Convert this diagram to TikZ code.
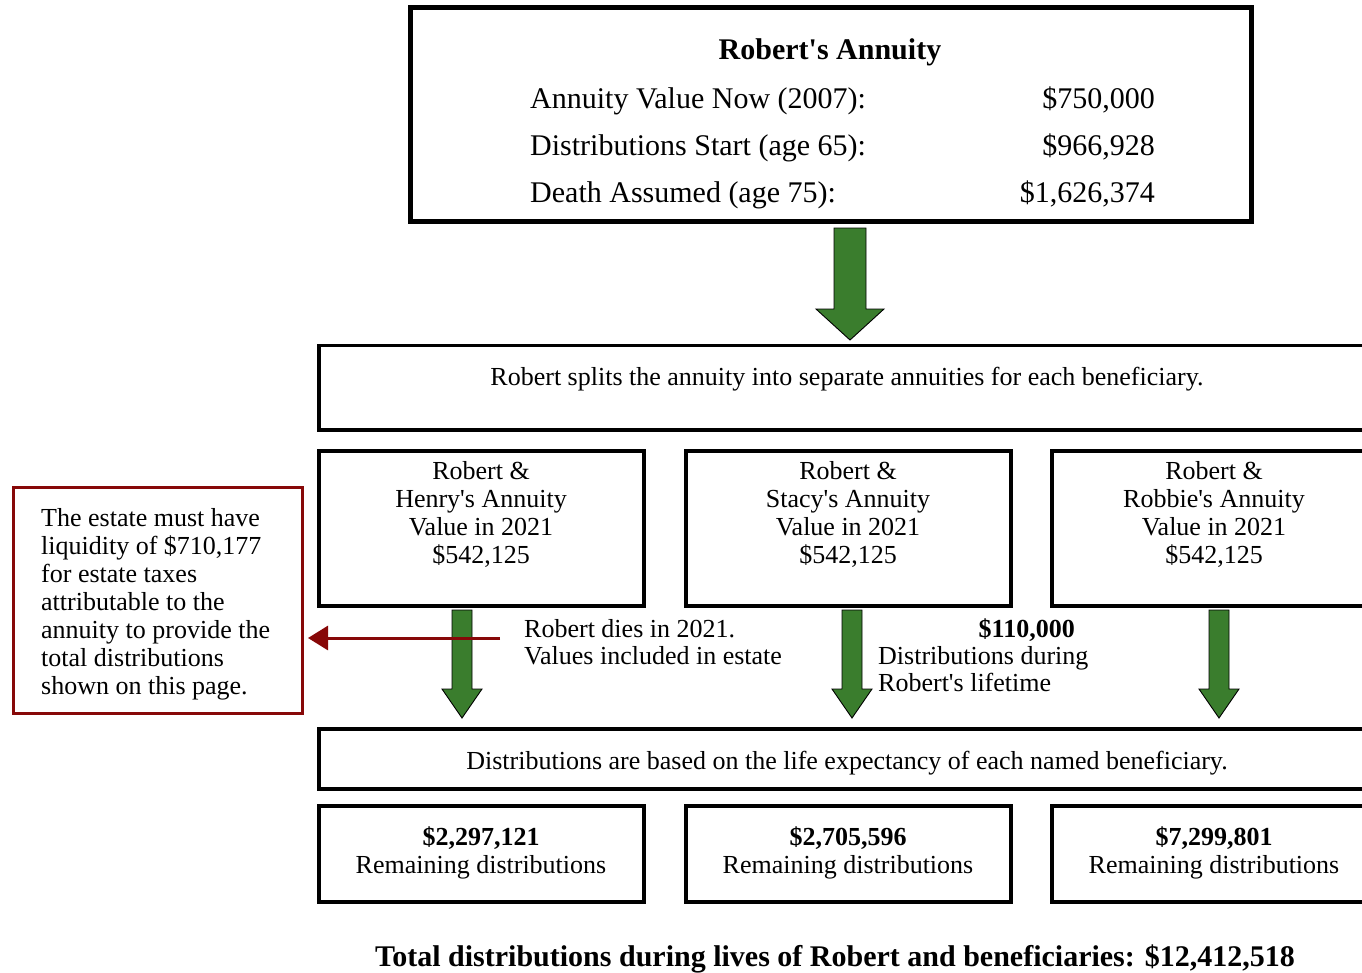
\documentclass[tikz,border=0pt]{standalone}
\usepackage{fontspec}
\setmainfont{Liberation Serif}[Ligatures=TeXOff]
\usetikzlibrary{arrows.meta,calc}
\definecolor{agreen}{RGB}{58,125,45}
\definecolor{ared}{RGB}{135,8,8}
\tikzset{
  box/.style={draw=black, line width=3.5pt, inner sep=0pt, fill=none},
  thickbox/.style={draw=black, line width=5pt, inner sep=0pt},
  redbox/.style={draw=ared, line width=3pt, inner sep=0pt},
  txt/.style={inner sep=0pt, font=\fontsize{26}{28}\selectfont},
  bigtxt/.style={inner sep=0pt, font=\fontsize{30}{36}\selectfont},
  garr/.style={draw=black, line width=0.9pt, fill=agreen, line join=miter},
  rarr/.style={draw=ared, line width=3pt, -{Triangle[length=20pt,width=24pt]}},
}
\newcommand\blockarrow[5]{%
  \draw[garr] let \p1=(#1), \p2=(#2) in
    (\x1-#3,\y1) -- (\x1+#3,\y1) -- (\x1+#3,\y2+#5) -- (\x1+#4,\y2+#5) --
    (\x2,\y2) -- (\x1-#4,\y2+#5) -- (\x1-#3,\y2+#5) -- cycle;}
\begin{document}
\begin{tikzpicture}[x=1pt,y=-1pt]
\useasboundingbox (0,0) rectangle (1362,972);
\clip (0,0) rectangle (1362,972);
\fill[white] (0,0) rectangle (1362,972);

% top box
\node[thickbox, minimum width=841pt, minimum height=213.5pt] (top) at (830.5,114.25) {};
\node[bigtxt, anchor=base, font=\fontsize{30}{36}\selectfont\bfseries] (title) at (830,59) {Robert's Annuity};
\node[bigtxt, anchor=base west] (l1) at (530,108) {Annuity Value Now (2007):};
\node[bigtxt, anchor=base east] (v1) at (1155,108) {\$750,000};
\node[bigtxt, anchor=base west] (l2) at (530,155) {Distributions Start (age 65):};
\node[bigtxt, anchor=base east] (v2) at (1155,155) {\$966,928};
\node[bigtxt, anchor=base west] (l3) at (530,202) {Death Assumed (age 75):};
\node[bigtxt, anchor=base east] (v3) at (1155,202) {\$1,626,374};

% split box
\node[box, minimum width=1058pt, minimum height=84.5pt] (split) at (848,387.75) {};
\node[txt, anchor=base] (splittxt) at (847,385) {Robert splits the annuity into separate annuities for each beneficiary.};

% beneficiary boxes
\node[box, minimum width=325pt, minimum height=155pt] (henry) at (481.5,528.5) {};
\node[box, minimum width=325pt, minimum height=155pt] (stacy) at (848.5,528.5) {};
\node[box, minimum width=325pt, minimum height=155pt] (robbie) at (1214.5,528.5) {};
\node[txt, anchor=base, align=center] (henrytxt) at (481,563) {Robert \&\\Henry's Annuity\\Value in 2021\\\$542,125};
\node[txt, anchor=base, align=center] (stacytxt) at (848,563) {Robert \&\\Stacy's Annuity\\Value in 2021\\\$542,125};
\node[txt, anchor=base, align=center] (robbietxt) at (1214,563) {Robert \&\\Robbie's Annuity\\Value in 2021\\\$542,125};

% red note box
\node[redbox, minimum width=289pt, minimum height=226pt] (note) at (157.5,600) {};
\node[txt, anchor=base west, align=left] (notetxt) at (41,694) {The estate must have\\liquidity of \$710,177\\for estate taxes\\attributable to the\\annuity to provide the\\total distributions\\shown on this page.};

% middle labels
\node[txt, anchor=base west, align=left, font=\fontsize{26}{27}\selectfont] (dies) at (524,664) {Robert dies in 2021.\\Values included in estate};
\node[txt, anchor=base east, font=\fontsize{26}{27}\selectfont\bfseries] (amt) at (1075,637) {\$110,000};
\node[txt, anchor=base west, align=left, font=\fontsize{26}{27}\selectfont] (during) at (878,691) {Distributions during\\Robert's lifetime};

% distributions box
\node[box, minimum width=1058pt, minimum height=60pt] (dist) at (848,759) {};
\node[txt, anchor=base] (disttxt) at (847,769) {Distributions are based on the life expectancy of each named beneficiary.};

% bottom boxes
\node[box, minimum width=325pt, minimum height=96pt] (rh) at (481.5,854) {};
\node[box, minimum width=325pt, minimum height=96pt] (rs) at (848.5,854) {};
\node[box, minimum width=325pt, minimum height=96pt] (rr) at (1214.5,854) {};
\node[txt, anchor=base, align=center] (rhtxt) at (481,873) {\textbf{\$2,297,121}\\Remaining distributions};
\node[txt, anchor=base, align=center] (rstxt) at (848,873) {\textbf{\$2,705,596}\\Remaining distributions};
\node[txt, anchor=base, align=center] (rrtxt) at (1214,873) {\textbf{\$7,299,801}\\Remaining distributions};

% total
\node[bigtxt, anchor=base, font=\fontsize{30}{36}\selectfont\bfseries] (total) at (835,966) {Total distributions during lives of Robert and beneficiaries: \$12,412,518};

% green arrows
\coordinate (a0s) at (850,228);
\coordinate (a0e) at (850,340);
\blockarrow{a0s}{a0e}{16}{34}{31}
\coordinate (a1s) at (462,610);
\coordinate (a1e) at (462,718);
\blockarrow{a1s}{a1e}{10}{20}{29}
\coordinate (a2s) at (852,610);
\coordinate (a2e) at (852,718);
\blockarrow{a2s}{a2e}{10}{20}{29}
\coordinate (a3s) at (1219,610);
\coordinate (a3e) at (1219,718);
\blockarrow{a3s}{a3e}{10}{20}{29}

% red arrow
\coordinate (rs0) at (500,638);
\draw[rarr, shorten >=4.5pt] (rs0) -- (note.east |- rs0);
\end{tikzpicture}
\end{document}
